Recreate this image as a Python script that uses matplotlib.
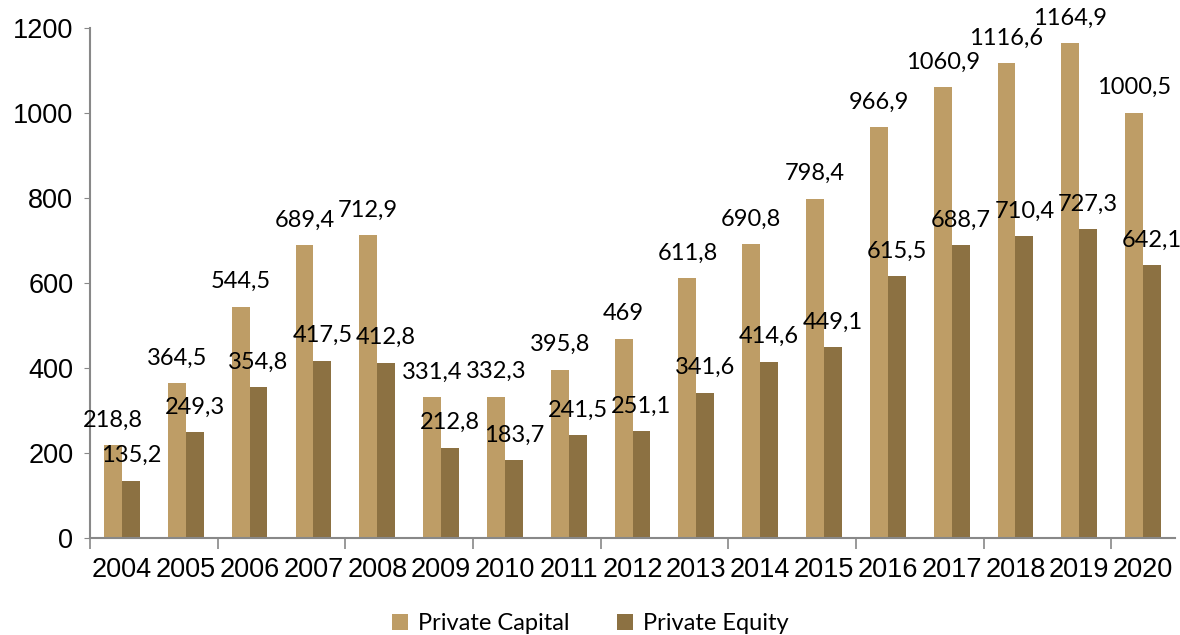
import numpy as np
import matplotlib.pyplot as plt

plt.rcParams['font.family'] = ['Liberation Sans', 'DejaVu Sans']

# datos
years = ["2004", "2005", "2006", "2007", "2008", "2009", "2010", "2011", "2012",
         "2013", "2014", "2015", "2016", "2017", "2018", "2019", "2020"]
private_capital = [218.8, 364.5, 544.5, 689.4, 712.9, 331.4, 332.3, 395.8, 469,
                   611.8, 690.8, 798.4, 966.9, 1060.9, 1116.6, 1164.9, 1000.5]
private_equity = [135.2, 249.3, 354.8, 417.5, 412.8, 212.8, 183.7, 241.5, 251.1,
                  341.6, 414.6, 449.1, 615.5, 688.7, 710.4, 727.3, 642.1]

color_capital = "#BE9D66"
color_equity = "#8C7142"
axis_gray = "#888888"

fig = plt.figure(figsize=(11.8, 6.35), dpi=100)
ax = fig.add_axes([0.0763, 0.1528, 0.9195, 0.8031])

x = np.arange(len(years))
w = 0.28
b1 = ax.bar(x - w / 2, private_capital, w, color=color_capital, label="Private Capital")
b2 = ax.bar(x + w / 2, private_equity, w, color=color_equity, label="Private Equity")


def fmt(v):
    s = f"{v:.1f}".replace(".", ",")
    return s[:-2] if s.endswith(",0") else s


for bars, vals in [(b1, private_capital), (b2, private_equity)]:
    for r, v in zip(bars, vals):
        ax.annotate(fmt(v), (r.get_x() + r.get_width() / 2, v), xytext=(0, 18),
                    textcoords="offset points", ha="center", va="center",
                    fontsize=17, family="Lato", color="black")

ax.set_xlim(-0.5, len(years) - 0.5)
ax.set_ylim(0, 1200)
ax.set_yticks(range(0, 1201, 200))
ax.tick_params(axis="y", labelsize=19.5, length=4, color=axis_gray, pad=8)

# etiquetas en el centro, ticks en los limites de categoria cada 2
ax.set_xticks(x, labels=years)
ax.tick_params(axis="x", which="major", length=0, pad=14, labelsize=19.5)
ax.set_xticks(np.arange(-0.5, len(years) - 0.5, 2), minor=True)
ax.tick_params(axis="x", which="minor", length=8, color=axis_gray, width=1.2)

for s in ["top", "right"]:
    ax.spines[s].set_visible(False)
for s in ["left", "bottom"]:
    ax.spines[s].set_color(axis_gray)
    ax.spines[s].set_linewidth(1.5)

fig.legend(loc="center", bbox_to_anchor=(0.5, 0.018), ncol=2, frameon=False,
           prop={"family": "Lato", "size": 17}, handlelength=0.7, handleheight=0.7,
           columnspacing=2.0, handletextpad=0.4)

fig.savefig("out.png", dpi=100)
